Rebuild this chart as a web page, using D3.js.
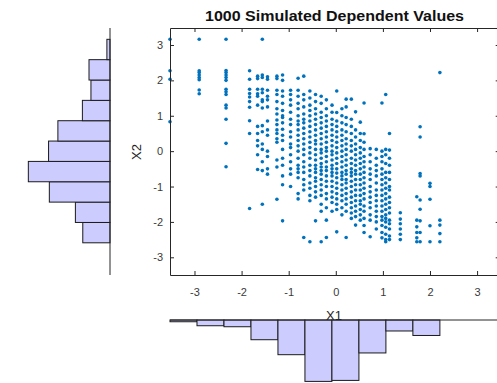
<!DOCTYPE html>
<html>
<head>
<meta charset="utf-8">
<script src="https://cdn.jsdelivr.net/npm/d3@7"></script>
<style>
  body { margin: 0; background: #fff; }
  svg text { font-family: "Liberation Sans", Arial, sans-serif; }
</style>
</head>
<body>
<svg id="chart" width="497" height="383"></svg>
<script>
// ---- data ----
const titleText = '1000 Simulated Dependent Values';
const xTicks = [-3, -2, -1, 0, 1, 2, 3];
const yTicks = [-3, -2, -1, 0, 1, 2, 3];

// scatter: one x1 value per column, x2 values in that column
const x1Cols = [-3.52, -2.90, -2.33, -1.83, -1.66, -1.56, -1.45, -1.25, -1.13, -0.96,
                -0.80, -0.68, -0.55, -0.43, -0.31, -0.20, -0.08, 0.02, 0.13, 0.22,
                0.33, 0.42, 0.52, 0.60, 0.73, 0.86, 0.98, 1.06, 1.14, 1.37,
                1.72, 1.79, 2.00, 2.21];
const x2ByCol = [
  [3.16, 2.27, 2.03, 0.83],
  [3.16, 2.27, 2.22, 2.15, 2.08, 2.02, 1.73, 1.62],
  [3.16, 2.28, 2.22, 2.15, 2.08, 2.00, 1.75, 1.68, 1.60, 1.30, 1.22, 0.90, 0.22, -0.44],
  [2.27, 2.03, 1.75, 1.63, 1.53, 1.40, 1.24, 0.86, 0.50, -1.62],
  [2.12, 2.05, 1.75, 1.62, 1.55, 1.30, 0.70, 0.50, 0.30, 0.15, -0.10, -0.52],
  [3.16, 2.15, 2.08, 1.75, 1.65, 1.45, 1.40, 1.22, 0.72, 0.55, 0.20, 0.05, -0.30, -0.55, -1.50],
  [2.10, 2.03, 1.72, 1.55, 1.45, 1.25, 0.85, 0.60, 0.45, 0.00, -0.15, -0.50, -0.65],
  [2.12, 2.05, 1.72, 1.60, 1.40, 1.20, 1.05, 0.88, 0.75, 0.60, 0.50, 0.35, 0.25, -0.25, -0.45, -1.36],
  [2.15, 2.00, 1.70, 1.55, 1.35, 1.15, 1.00, 0.95, 0.80, 0.62, 0.45, 0.30, 0.05, -0.20, -0.40, -0.70, -0.95, -1.97],
  [1.72, 1.60, 1.45, 1.30, 1.10, 0.90, 0.75, 0.55, 0.40, 0.20, 0.10, -0.10, -0.30, -0.50, -0.65, -1.00],
  [2.06, 1.72, 1.55, 1.35, 1.20, 1.00, 0.85, 0.75, 0.60, 0.45, 0.30, 0.15, 0.00, -0.20, -0.40, -0.50, -0.60, -0.75, -1.20, -1.35],
  [2.12, 1.60, 1.45, 1.25, 1.05, 0.90, 0.80, 0.65, 0.50, 0.35, 0.20, 0.05, -0.10, -0.30, -0.45, -0.60, -0.80, -0.95, -1.10, -2.44],
  [1.70, 1.50, 1.30, 1.15, 1.00, 0.85, 0.70, 0.55, 0.40, 0.25, 0.10, -0.05, -0.20, -0.40, -0.55, -0.70, -0.90, -1.05, -1.25, -1.40, -2.56],
  [1.60, 1.40, 1.20, 1.05, 0.90, 0.75, 0.60, 0.45, 0.30, 0.20, 0.05, -0.10, -0.25, -0.40, -0.50, -0.60, -0.75, -0.85, -1.00, -1.15, -1.30, -1.97],
  [1.55, 1.35, 1.10, 0.95, 0.80, 0.65, 0.50, 0.35, 0.20, 0.05, -0.05, -0.20, -0.35, -0.45, -0.55, -0.65, -0.80, -0.95, -1.10, -1.25, -1.50, -1.70, -2.56],
  [1.45, 1.20, 1.00, 0.85, 0.70, 0.55, 0.40, 0.25, 0.10, 0.00, -0.15, -0.30, -0.45, -0.55, -0.70, -0.85, -1.00, -1.20, -1.35, -1.60, -1.95, -2.44],
  [1.30, 1.10, 0.90, 0.75, 0.60, 0.45, 0.30, 0.15, 0.00, -0.10, -0.25, -0.40, -0.50, -0.60, -0.70, -0.85, -1.00, -1.15, -1.30, -1.45, -1.70],
  [1.70, 1.09, 0.85, 0.70, 0.55, 0.40, 0.25, 0.10, -0.05, -0.20, -0.35, -0.50, -0.62, -0.75, -0.90, -1.05, -1.20, -1.35, -1.50, -1.65, -2.28],
  [1.20, 1.00, 0.80, 0.60, 0.45, 0.30, 0.15, 0.00, -0.15, -0.30, -0.45, -0.60, -0.70, -0.80, -0.95, -1.10, -1.25, -1.40, -1.60, -1.80],
  [1.47, 1.25, 0.95, 0.75, 0.55, 0.35, 0.20, 0.05, -0.10, -0.25, -0.40, -0.55, -0.65, -0.80, -0.90, -1.05, -1.20, -1.35, -1.50, -1.70, -2.44],
  [1.47, 0.90, 0.70, 0.50, 0.30, 0.15, 0.00, -0.20, -0.35, -0.50, -0.60, -0.70, -0.85, -1.00, -1.15, -1.30, -1.45, -1.60, -1.75, -1.90],
  [1.11, 0.60, 0.40, 0.20, 0.05, -0.10, -0.25, -0.40, -0.55, -0.65, -0.80, -0.95, -1.10, -1.25, -1.40, -1.55, -1.70, -1.85, -2.09],
  [0.82, 0.50, 0.30, 0.10, -0.05, -0.20, -0.35, -0.50, -0.65, -0.80, -0.95, -1.10, -1.25, -1.40, -1.50, -1.65, -1.80, -1.95],
  [1.36, 0.49, 0.25, 0.05, -0.15, -0.30, -0.45, -0.60, -0.75, -0.90, -1.05, -1.20, -1.35, -1.55, -1.70, -1.90, -2.10, -2.30],
  [0.07, -0.10, -0.30, -0.50, -0.65, -0.80, -1.00, -1.15, -1.30, -1.45, -1.60, -1.80, -1.95, -2.42],
  [0.05, -0.20, -0.40, -0.55, -0.70, -0.90, -1.10, -1.25, -1.40, -1.55, -1.70, -1.85, -2.00, -2.20],
  [1.36, 0.00, -0.15, -0.30, -0.50, -0.65, -0.80, -0.95, -1.10, -1.25, -1.40, -1.55, -1.70, -1.85, -1.95, -2.10, -2.30, -2.45],
  [1.60, 0.05, -0.10, -0.35, -0.60, -0.75, -0.90, -1.05, -1.20, -1.35, -1.50, -1.65, -1.80, -1.90, -2.00, -2.15, -2.35, -2.50, -2.56],
  [0.50, 0.03, -0.20, -0.40, -0.60, -0.80, -1.00, -1.10, -1.30, -1.45, -1.60, -1.75, -1.95, -2.05, -2.20, -2.40, -2.50],
  [-1.74, -1.92, -2.05, -2.20, -2.35, -2.50],
  [-1.29, -1.95, -2.14, -2.30, -2.45, -2.56],
  [0.69, 0.40, -0.63, -0.70, -1.38, -1.64, -1.97, -2.30, -2.56],
  [-0.91, -1.00, -1.36, -2.11, -2.56],
  [2.22, -1.95, -2.09, -2.33, -2.56]
];

// marginal histograms (10 bins each)
const x1BinStart = -3.52, x1BinWidth = 0.573;
const x1Counts = [7, 23, 27, 79, 139, 246, 242, 132, 44, 62];
const x2BinStart = -2.59, x2BinWidth = 0.575;
const x2Counts = [70, 89, 156, 210, 158, 134, 71, 49, 54, 8];

// ---- layout ----
const svg = d3.select('#chart');
const ink = '#262626';
const plot = { left: 170, right: 499.7, top: 28, bottom: 275 };

const x = d3.scaleLinear().domain([-3.52, 3.48]).range([plot.left, plot.right]);
const y = d3.scaleLinear().domain([-3.5, 3.48]).range([plot.bottom, plot.top]);

// histogram count scales
const hxLeft = d3.scaleLinear().domain([0, 270]).range([110, 5]);
const hyBottom = d3.scaleLinear().domain([0, 250]).range([320, 382.4]);

// ---- left histogram (x2) ----
const leftBins = x2Counts.map((c, i) => ({ lo: x2BinStart + i * x2BinWidth, hi: x2BinStart + (i + 1) * x2BinWidth, c: c }));
svg.append('g').selectAll('rect').data(leftBins).enter()
  .append('rect')
  .attr('x', d => hxLeft(d.c))
  .attr('y', d => y(d.hi))
  .attr('width', d => hxLeft(0) - hxLeft(d.c))
  .attr('height', d => y(d.lo) - y(d.hi))
  .attr('fill', '#ccccff')
  .attr('stroke', '#1a1a1a')
  .attr('stroke-width', 1);
svg.append('line')
  .attr('x1', hxLeft(0)).attr('x2', hxLeft(0))
  .attr('y1', plot.top).attr('y2', plot.bottom)
  .attr('stroke', ink).attr('stroke-width', 1);

// ---- bottom histogram (x1) ----
const bottomBins = x1Counts.map((c, i) => ({ lo: x1BinStart + i * x1BinWidth, hi: x1BinStart + (i + 1) * x1BinWidth, c: c }));
svg.append('g').selectAll('rect').data(bottomBins).enter()
  .append('rect')
  .attr('x', d => x(d.lo))
  .attr('y', hyBottom(0))
  .attr('width', d => x(d.hi) - x(d.lo))
  .attr('height', d => hyBottom(d.c) - hyBottom(0))
  .attr('fill', '#ccccff')
  .attr('stroke', '#1a1a1a')
  .attr('stroke-width', 1);
svg.append('line')
  .attr('x1', plot.left).attr('x2', plot.right)
  .attr('y1', hyBottom(0)).attr('y2', hyBottom(0))
  .attr('stroke', ink).attr('stroke-width', 1);

// ---- scatter ----
const points = [];
x1Cols.forEach((cx, i) => x2ByCol[i].forEach(v => points.push({ x1: cx, x2: v })));

svg.append('g').selectAll('circle').data(points).enter()
  .append('circle')
  .attr('cx', d => x(d.x1))
  .attr('cy', d => y(d.x2))
  .attr('r', 1.8)
  .attr('fill', '#0072bd');

// ---- axes with box ----
const fmt = d => String(d);
svg.append('g')
  .attr('transform', 'translate(0,' + plot.bottom + ')')
  .call(d3.axisBottom(x).tickValues(xTicks).tickFormat(fmt).tickSizeInner(-4).tickSizeOuter(0).tickPadding(13));
svg.append('g')
  .attr('transform', 'translate(0,' + plot.top + ')')
  .call(d3.axisTop(x).tickValues(xTicks).tickFormat('').tickSizeInner(-4).tickSizeOuter(0));
svg.append('g')
  .attr('transform', 'translate(' + plot.left + ',0)')
  .call(d3.axisLeft(y).tickValues(yTicks).tickFormat(fmt).tickSizeInner(-4).tickSizeOuter(0).tickPadding(7));
svg.append('g')
  .attr('transform', 'translate(' + plot.right + ',0)')
  .call(d3.axisRight(y).tickValues(yTicks).tickFormat('').tickSizeInner(-4).tickSizeOuter(0));

svg.selectAll('.domain').attr('stroke', ink);
svg.selectAll('.tick line').attr('stroke', ink);
svg.selectAll('.tick text').attr('fill', '#3a3a3a').style('font-size', '11px');

// ---- labels ----
svg.append('text')
  .attr('x', 334.5).attr('y', 20.5)
  .attr('text-anchor', 'middle')
  .attr('textLength', 259).attr('lengthAdjust', 'spacingAndGlyphs')
  .style('font-size', '14px').style('font-weight', 'bold')
  .attr('fill', '#111')
  .text(titleText);

svg.append('text')
  .attr('x', 334).attr('y', 320)
  .attr('text-anchor', 'middle')
  .style('font-size', '13px')
  .attr('fill', '#262626')
  .text('X1');

svg.append('text')
  .attr('transform', 'translate(141,152) rotate(-90)')
  .attr('text-anchor', 'middle')
  .style('font-size', '13px')
  .attr('fill', '#262626')
  .text('X2');
</script>
</body>
</html>
